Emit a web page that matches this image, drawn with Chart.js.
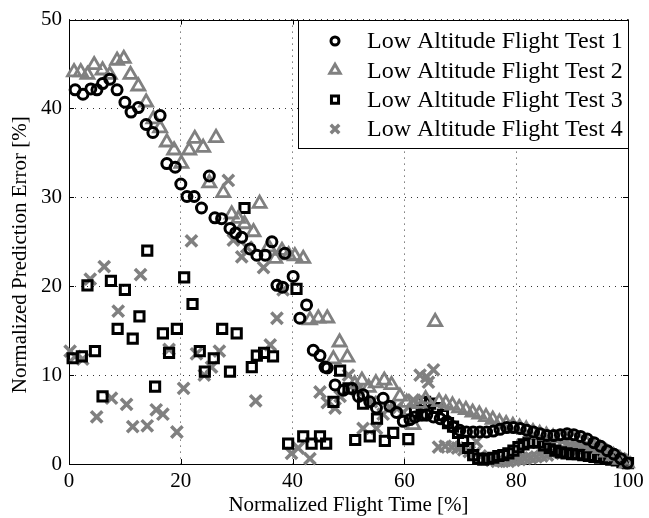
<!DOCTYPE html>
<html><head><meta charset="utf-8">
<style>html,body{margin:0;padding:0;background:#fff;overflow:hidden}#wrap{width:649px;height:518px;position:relative}</style>
<script src="https://cdn.jsdelivr.net/npm/chart.js@4/dist/chart.umd.min.js"></script>
</head><body><div id="wrap"><canvas id="c" width="649" height="518"></canvas></div>
<script>
const seriesNames = ["Low Altitude Flight Test 1","Low Altitude Flight Test 2","Low Altitude Flight Test 3","Low Altitude Flight Test 4"];
const xTicks = [0,20,40,60,80,100];
const yTicks = [0,10,20,30,40,50];
const xTitle = "Normalized Flight Time [%]";
const yTitle = "Normalized Prediction Error [%]";

const test1Points = [[1.1,42.1],[2.5,41.6],[3.9,42.2],[5.0,42.1],[6.0,42.8],[7.3,43.3],[8.6,42.1],[10.0,40.7],[11.1,39.6],[12.4,40.1],[13.8,38.2],[15.0,37.3],[16.3,39.2],[17.5,33.8],[19.0,33.4],[20.0,31.5],[21.1,30.1],[22.4,30.1],[23.7,28.8],[25.1,32.4],[26.1,27.7],[27.3,27.6],[28.8,26.5],[29.8,26.0],[30.9,25.5],[32.4,24.2],[33.6,23.5],[35.1,23.5],[36.3,25.0],[37.2,20.1],[38.2,19.9],[38.6,23.7],[40.1,21.1],[41.3,16.4],[42.5,17.9],[43.7,12.8],[44.9,12.2],[45.8,10.9],[46.2,10.8],[47.6,8.9],[49.1,8.3],[50.6,8.5],[51.8,7.6],[52.6,7.8],[53.8,7.0],[55.0,6.3],[56.2,7.4],[57.4,6.5],[58.6,5.8],[59.8,4.8],[61.0,5.0],[61.9,5.3],[63.1,5.5],[64.0,5.5],[65.2,5.3],[66.4,5.1],[67.6,4.8],[68.7,4.2],[69.9,3.8],[71.1,3.6],[72.3,3.6],[73.5,3.6],[74.7,3.6],[75.9,3.7],[77.1,3.9],[78.3,4.1],[79.5,4.1],[80.7,4.0],[81.9,3.8],[83.1,3.6],[84.3,3.4],[85.5,3.2],[86.7,3.2],[87.9,3.3],[89.1,3.4],[90.3,3.3],[91.5,3.1],[92.7,2.8],[93.9,2.4],[95.1,2.0],[96.3,1.5],[97.5,1.1],[98.7,0.6],[99.9,0.1]];

const test2Points = [[0.9,44.1],[2.1,44.1],[3.3,43.8],[4.5,44.9],[6.0,44.3],[7.3,43.8],[8.6,45.4],[9.8,45.6],[11.0,43.8],[12.4,42.5],[13.8,40.7],[15.1,38.8],[16.3,37.8],[17.5,36.2],[18.8,35.3],[20.1,33.8],[21.5,35.3],[22.5,36.6],[24.0,35.6],[25.1,31.6],[26.3,36.7],[27.6,30.5],[29.1,28.1],[30.3,27.6],[31.4,27.0],[33.0,26.1],[34.1,29.3],[35.7,24.4],[36.9,23.1],[38.1,24.0],[39.3,23.5],[40.4,23.4],[41.9,23.1],[43.1,16.2],[44.6,16.4],[46.2,16.4],[47.3,11.8],[48.4,13.7],[49.8,12.0],[51.1,9.0],[52.4,9.4],[53.6,8.6],[54.9,9.1],[56.4,9.4],[57.7,8.9],[59.2,7.6],[60.4,6.9],[61.6,4.4],[62.7,6.8],[63.8,7.3],[65.5,16.0],[66.2,7.0],[67.4,6.8],[68.6,6.6],[69.8,6.3],[71.0,6.1],[72.2,5.8],[73.4,5.6],[74.6,5.3],[75.8,5.0],[77.0,4.7],[78.2,4.5],[79.4,4.3],[80.6,4.1],[81.8,3.9],[83.0,3.6],[84.2,3.4],[85.4,3.2],[86.6,3.0],[87.8,2.9],[89.0,2.8],[90.2,2.7],[91.4,2.5],[92.6,2.3],[93.8,2.0],[95.0,1.7],[96.2,1.3],[97.4,0.9],[98.6,0.5],[99.8,0.1]];

const test3Points = [[0.65,11.9],[2.3,12.1],[3.3,20.1],[4.65,12.7],[6.0,7.6],[7.5,20.6],[8.7,15.2],[10.0,19.6],[11.4,14.1],[12.6,16.6],[14.0,24.0],[15.4,8.7],[16.8,14.7],[17.9,12.5],[19.3,15.2],[20.6,21.0],[22.1,18.0],[23.4,12.7],[24.3,10.4],[25.9,11.9],[27.4,15.2],[28.8,10.4],[30.0,14.7],[31.4,28.8],[32.7,10.9],[33.6,12.2],[34.9,12.5],[36.5,12.1],[39.2,2.3],[40.7,19.7],[41.9,3.1],[43.4,2.3],[44.9,3.1],[46.0,2.3],[47.3,7.0],[48.5,10.5],[50.0,8.5],[51.2,2.7],[52.6,6.8],[53.8,3.1],[55.1,5.1],[56.5,2.6],[58.0,3.5],[60.7,2.8],[61.9,5.9],[63.1,5.5],[63.7,7.0],[64.6,6.8],[65.8,6.3],[66.9,5.5],[67.8,4.6],[68.7,4.2],[69.6,3.5],[70.5,2.6],[71.4,1.8],[72.3,1.0],[73.2,0.6],[74.1,0.5],[75.0,0.6],[75.9,0.7],[76.8,0.9],[77.7,1.0],[78.6,1.2],[79.5,1.5],[80.4,1.9],[81.3,2.2],[82.2,2.4],[83.1,2.5],[84.0,2.4],[85.0,2.1],[86.0,1.8],[87.0,1.5],[88.0,1.3],[89.0,1.2],[90.0,1.1],[91.0,1.1],[92.0,1.0],[93.0,0.9],[94.0,0.8],[95.0,0.7],[96.0,0.6],[97.0,0.5],[98.0,0.4],[99.0,0.2],[100.0,0.1]];

const test4Points = [[0.2,12.7],[1.1,12.1],[2.45,11.8],[3.8,20.8],[4.95,5.3],[6.3,22.2],[7.6,7.4],[8.8,17.2],[10.3,6.7],[11.4,4.2],[12.8,21.3],[14.0,4.3],[15.6,6.1],[16.8,5.6],[17.9,12.9],[19.3,3.6],[20.5,8.5],[21.9,25.1],[22.8,12.4],[24.2,10.0],[25.5,10.9],[26.9,12.7],[28.5,31.9],[29.4,25.2],[30.9,23.3],[31.8,24.4],[33.4,7.1],[34.8,22.1],[36.0,13.4],[37.2,16.4],[38.3,19.6],[39.8,1.2],[41.0,1.8],[43.1,0.6],[44.9,8.1],[46.2,6.9],[47.6,6.3],[48.5,7.6],[50.0,10.0],[51.5,8.3],[52.6,4.0],[54.1,7.0],[55.0,4.0],[56.2,5.6],[57.4,6.4],[58.6,6.3],[59.8,5.8],[61.6,7.2],[62.8,10.0],[64.0,9.8],[64.3,9.2],[65.2,10.6],[66.1,1.9],[67.3,2.0],[68.5,1.9],[69.5,1.8],[70.6,1.6],[71.6,1.4],[72.5,1.2],[72.9,2.5],[73.6,0.9],[74.6,0.6],[75.6,0.4],[76.6,0.3],[77.6,0.3],[78.6,0.3],[79.6,0.4],[80.6,0.5],[81.6,0.6],[82.6,0.7],[83.6,0.8],[84.6,0.9],[85.6,1.0],[86.6,1.2],[87.6,1.4],[88.6,1.6],[89.6,1.7],[90.6,1.8],[91.6,1.9],[92.6,1.9],[93.6,1.8],[94.6,1.7],[95.6,1.5],[96.6,1.2],[97.6,0.9],[98.6,0.6],[99.6,0.2]];

const FONT = '"Liberation Serif", "Times New Roman", Times, serif';
const toXY = pts => pts.map(p => ({x: p[0], y: p[1]}));

const styles = [
  {pointStyle:'circle', color:'#000000', radius:5, width:3, legendRadius:4, legendWidth:3},
  {pointStyle:'triangle', color:'#808080', radius:7.5, width:2.8, legendRadius:6, legendWidth:3},
  {pointStyle:'rect', color:'#000000', radius:6.5, width:3, legendRadius:5, legendWidth:3},
  {pointStyle:'crossRot', color:'#808080', radius:8, width:3.5, legendRadius:6, legendWidth:3.5}
];
const allPoints = [test1Points, test2Points, test3Points, test4Points];

const datasets = allPoints.map((pts, i) => ({
  label: seriesNames[i],
  data: toXY(pts),
  showLine: false,
  pointStyle: styles[i].pointStyle,
  pointRadius: styles[i].radius,
  pointHoverRadius: styles[i].radius,
  pointBorderWidth: styles[i].width,
  pointBorderColor: styles[i].color,
  pointBackgroundColor: 'rgba(0,0,0,0)',
  borderColor: styles[i].color,
  backgroundColor: 'rgba(0,0,0,0)',
  clip: false
}));

const framePlugin = {
  id: 'frame',
  beforeDatasetsDraw(chart) {
    const {ctx, chartArea: a, scales: {x, y}} = chart;
    ctx.save();
    ctx.strokeStyle = '#000';
    ctx.lineWidth = 1;
    const L = 5;
    ctx.beginPath();
    x.ticks.forEach(t => {
      const px = Math.round(x.getPixelForValue(t.value)) + 0.5;
      ctx.moveTo(px, a.bottom); ctx.lineTo(px, a.bottom - L);
      ctx.moveTo(px, a.top); ctx.lineTo(px, a.top + L);
    });
    y.ticks.forEach(t => {
      const py = Math.round(y.getPixelForValue(t.value)) + 0.5;
      ctx.moveTo(a.left, py); ctx.lineTo(a.left + L, py);
      ctx.moveTo(a.right, py); ctx.lineTo(a.right - L, py);
    });
    ctx.stroke();
    ctx.strokeRect(Math.round(a.left) + 0.5, Math.round(a.top) + 0.5, Math.round(a.right - a.left), Math.round(a.bottom - a.top));
    // y axis title
    ctx.save();
    ctx.fillStyle = '#000';
    ctx.font = '21px ' + FONT;
    ctx.textAlign = 'center';
    ctx.textBaseline = 'middle';
    ctx.translate(20, (a.top + a.bottom) / 2 + 13);
    ctx.rotate(-Math.PI / 2);
    ctx.fillText(yTitle, 0, 0);
    ctx.restore();
    ctx.restore();
  }
};

function drawMarker(ctx, style, r, lw, x, y) {
  ctx.save();
  ctx.strokeStyle = style.color;
  ctx.fillStyle = 'rgba(0,0,0,0)';
  ctx.lineWidth = lw;
  if (Chart.helpers && Chart.helpers.drawPoint) {
    Chart.helpers.drawPoint(ctx, {pointStyle: style.pointStyle, radius: r, rotation: 0, borderWidth: lw}, x, y);
  } else {
    ctx.beginPath(); ctx.arc(x, y, r, 0, Math.PI * 2); ctx.stroke();
  }
  ctx.restore();
}

const boxLegendPlugin = {
  id: 'boxLegend',
  afterDraw(chart) {
    const {ctx, chartArea: a} = chart;
    const w = 330, h = 128;
    const left = Math.round(a.right) - w, top = Math.round(a.top);
    ctx.save();
    ctx.fillStyle = '#fff';
    ctx.fillRect(left, top, w, h);
    ctx.strokeStyle = '#000';
    ctx.lineWidth = 1;
    ctx.strokeRect(left + 0.5, top + 0.5, w, h);
    ctx.font = '24px ' + FONT;
    ctx.textBaseline = 'middle';
    ctx.textAlign = 'left';
    chart.data.datasets.forEach((ds, i) => {
      const cy = top + 21 + i * 29.3;
      drawMarker(ctx, styles[i], styles[i].legendRadius, styles[i].legendWidth, left + 37, cy);
      ctx.fillStyle = '#000';
      ctx.fillText(ds.label, left + 69, cy + 1);
    });
    ctx.restore();
  }
};

Chart.defaults.font.family = FONT;
Chart.defaults.color = '#000';

new Chart(document.getElementById('c'), {
  type: 'scatter',
  data: {datasets},
  plugins: [framePlugin, boxLegendPlugin],
  options: {
    responsive: false,
    animation: false,
    devicePixelRatio: 1,
    layout: {padding: {left: 0, right: 21, top: 19, bottom: 0}},
    plugins: {legend: {display: false}, tooltip: {enabled: false}},
    scales: {
      x: {
        type: 'linear', min: 0, max: 100,
        afterBuildTicks: s => { s.ticks = xTicks.map(v => ({value: v})); },
        afterFit: s => { s.height = 54; },
        ticks: {color: '#000', font: {size: 21, family: FONT}, padding: 5, maxRotation: 0, autoSkip: false},
        grid: {color: 'rgba(0,0,0,0.8)', lineWidth: 1, drawTicks: false},
        border: {display: false, dash: [1, 5]},
        title: {display: true, text: xTitle, color: '#000', font: {size: 21, family: FONT, lineHeight: 1.2}, padding: {top: 0, bottom: 0}}
      },
      y: {
        type: 'linear', min: 0, max: 50,
        afterBuildTicks: s => { s.ticks = yTicks.map(v => ({value: v})); },
        afterFit: s => { s.width = 69; },
        ticks: {color: '#000', font: {size: 21, family: FONT}, padding: 7, autoSkip: false},
        grid: {color: 'rgba(0,0,0,0.8)', lineWidth: 1, drawTicks: false},
        border: {display: false, dash: [1, 5]},
        title: {display: false, text: yTitle}
      }
    }
  }
});
</script>
</body></html>
